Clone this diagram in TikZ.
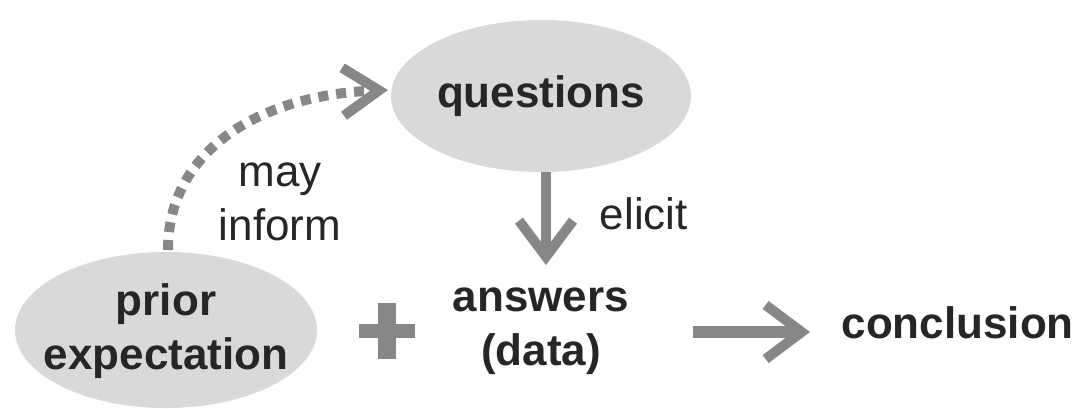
\documentclass[tikz,border=0pt]{standalone}
\usepackage{fontspec}
\setmainfont{Liberation Sans}
\usetikzlibrary{arrows.meta,shapes.geometric}
\definecolor{ellfill}{HTML}{D9D9D9}
\definecolor{arrgray}{HTML}{878787}
\definecolor{txt}{HTML}{262626}
\tikzset{
  bubble/.style={ellipse, fill=ellfill, inner sep=0pt},
  lbl/.style={text=txt, font=\fontsize{44}{54}\selectfont\bfseries, align=center},
  small/.style={text=txt, font=\fontsize{44}{54}\selectfont, align=center},
  arr/.style={draw=arrgray, line width=10pt, -{Straight Barb[length=36pt,width=54pt,line width=10pt]}},
}
\begin{document}
\begin{tikzpicture}[x=1pt,y=-1pt]
\useasboundingbox (0,0) rectangle (1088,408);
\node[bubble, minimum width=300pt, minimum height=152pt] (q) at (541,96) {};
\node[lbl] (qt) at (541,96) {questions};
\node[bubble, minimum width=302pt, minimum height=156pt] (p) at (166,330) {};
\node[lbl] (pt) at (166,331) {prior\\expectation};
\node[lbl] (a) at (541,331) {answers\\(data)};
\node[lbl, anchor=west] (c) at (838,323) {conclusion};
\node[small] (mi) at (280,202) {may\\inform};
\node[small] (el) at (644,214) {elicit};
% plus sign
\coordinate (plus) at (387,331);
\fill[arrgray] ([xshift=-28pt,yshift=7pt]plus) rectangle ([xshift=28pt,yshift=-7pt]plus);
\fill[arrgray] ([xshift=-9pt,yshift=28pt]plus) rectangle ([xshift=9pt,yshift=-28pt]plus);
% arrows
\coordinate (dtop) at (546,172);
\coordinate (dtip) at (546,265);
\draw[arr] (dtop) -- (dtip);
\coordinate (rstart) at (693,332);
\coordinate (rtip) at (810,332);
\draw[arr, line width=12pt] (rstart) -- (rtip);
\coordinate (cstart) at (168,250);
\coordinate (ctip) at (388,90);
\draw[draw=arrgray, line width=10pt, dash pattern=on 10pt off 8pt,
  -{Straight Barb[length=36pt,width=48pt,line width=10pt]}]
  (cstart) .. controls (168,150) and (260,95) .. (ctip);
\end{tikzpicture}
\end{document}
